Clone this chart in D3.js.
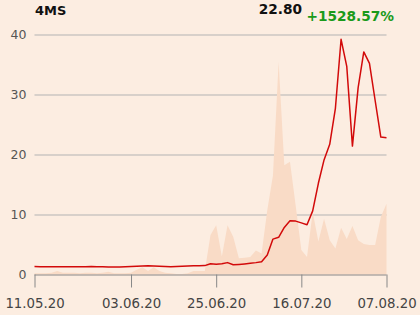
<!DOCTYPE html>
<html>
<head>
  <script src="https://d3js.org/d3.v7.min.js"></script>
  <style>
    body { margin: 0; background: #fcede1; }
    svg { display: block; font-family: "DejaVu Sans", sans-serif; }
    .grid line { stroke: #b3b3b3; stroke-width: 1px; }
    .axis text { font-family: "DejaVu Sans", sans-serif; }
    .axis--y text { fill: #555; font-size: 12.5px; }
    .axis--x text { fill: #444; font-size: 13.3px; }
    .axis--x path, .axis--x line { stroke: #888; }
    .area { fill: #f9dbc6; }
    .line { fill: none; stroke: #d20a0a; stroke-width: 1.5px; stroke-linejoin: round; }
  </style>
</head>
<body>
  <svg></svg>
  <script>
    // closing price per trading day, 11.05.20 .. 07.08.20
    var prices = [
      1.32, 1.31, 1.31, 1.30, 1.30, 1.29, 1.30, 1.30, 1.28, 1.30,
      1.32, 1.30, 1.28, 1.26, 1.25, 1.27, 1.30, 1.33, 1.38, 1.42,
      1.45, 1.40, 1.36, 1.32, 1.30, 1.33, 1.38, 1.42, 1.45, 1.45,
      1.48, 1.80, 1.72, 1.78, 1.98, 1.62, 1.68, 1.76, 1.86, 1.98,
      2.13, 3.25, 5.90, 6.20, 7.85, 8.95, 8.90, 8.60, 8.30, 10.60,
      15.20, 19.10, 21.70, 27.70, 39.20, 34.70, 21.40, 31.10, 37.10, 35.20,
      29.00, 22.90, 22.80
    ];

    // traded volume (thousand shares)
    var volumes = [
      0.2, 0.2, 0.2, 0.3, 0.6, 0.3, 0.3, 0.3, 0.2, 0.3,
      0.3, 0.2, 0.3, 0.45, 0.2, 0.2, 0.2, 0.3, 0.8, 1.2,
      0.6, 1.2, 0.6, 0.3, 0.2, 0.1, 0.1, 0.2, 0.6, 0.6,
      0.6, 6.6, 8.2, 3.0, 8.2, 6.3, 2.7, 2.8, 2.9, 4.0,
      3.5, 10.7, 16.5, 35.4, 18.2, 18.8, 11.5, 4.1, 2.9, 10.4,
      5.5, 9.3, 5.7, 4.35, 7.8, 5.9, 8.1, 5.7, 5.1, 4.9,
      4.9, 9.6, 11.8
    ];

    var tickIndex = [0, 17, 32, 47, 62];
    var tickLabels = ["11.05.20", "03.06.20", "25.06.20", "16.07.20", "07.08.20"];
    var yTicks = [0, 10, 20, 30, 40];

    var title = "4MS";
    var lastPrice = "22.80";
    var change = "+1528.57%";

    var W = 420, H = 315;
    var margin = { top: 34.5, right: 33.5, bottom: 40.5, left: 34.5 };
    var width = W - margin.left - margin.right;
    var height = H - margin.top - margin.bottom;

    var svg = d3.select("svg").attr("width", W).attr("height", H);

    var g = svg.append("g")
      .attr("transform", "translate(" + margin.left + "," + margin.top + ")");

    var x = d3.scaleLinear().domain([0, prices.length - 1]).range([0, width]);
    var y = d3.scaleLinear().domain([0, 40]).range([height, 0]);
    var yVol = d3.scaleLinear().domain([0, 40]).range([height, 0]);

    // grid lines
    g.append("g")
      .attr("class", "grid")
      .selectAll("line")
      .data(yTicks.filter(function(d) { return d > 0; }))
      .enter().append("line")
      .attr("x1", 0)
      .attr("x2", width)
      .attr("y1", function(d) { return Math.round(y(d)) + 0.5; })
      .attr("y2", function(d) { return Math.round(y(d)) + 0.5; });

    // volume area
    g.append("path")
      .datum(volumes)
      .attr("class", "area")
      .attr("d", d3.area()
        .x(function(d, i) { return x(i); })
        .y0(height)
        .y1(function(d) { return yVol(d); }));

    // x axis
    var xAxis = g.append("g")
      .attr("class", "axis axis--x")
      .attr("transform", "translate(0," + height + ")")
      .call(d3.axisBottom(x)
        .tickValues(tickIndex)
        .tickSize(13)
        .tickSizeOuter(0)
        .tickPadding(11)
        .tickFormat(function(d, i) { return tickLabels[i]; }));
    xAxis.select(".domain").attr("d", "M0,0.5H" + width);

    // y axis labels only
    var yAxis = g.append("g")
      .attr("class", "axis axis--y")
      .call(d3.axisLeft(y).tickValues(yTicks).tickSize(0).tickPadding(8));
    yAxis.select(".domain").remove();

    // price line
    g.append("path")
      .datum(prices)
      .attr("class", "line")
      .attr("d", d3.line()
        .x(function(d, i) { return x(i); })
        .y(function(d) { return y(d); }));

    // header
    svg.append("text")
      .attr("x", 35)
      .attr("y", 15)
      .style("font-weight", "bold")
      .style("font-size", "13px")
      .style("fill", "#111")
      .text(title);

    svg.append("text")
      .attr("x", 302)
      .attr("y", 14)
      .attr("text-anchor", "end")
      .style("font-weight", "bold")
      .style("font-size", "13.7px")
      .style("fill", "#111")
      .text(lastPrice);

    svg.append("text")
      .attr("x", 306.5)
      .attr("y", 21)
      .style("font-weight", "bold")
      .style("font-size", "13.7px")
      .style("fill", "#1a9a1a")
      .text(change);
  </script>
</body>
</html>
